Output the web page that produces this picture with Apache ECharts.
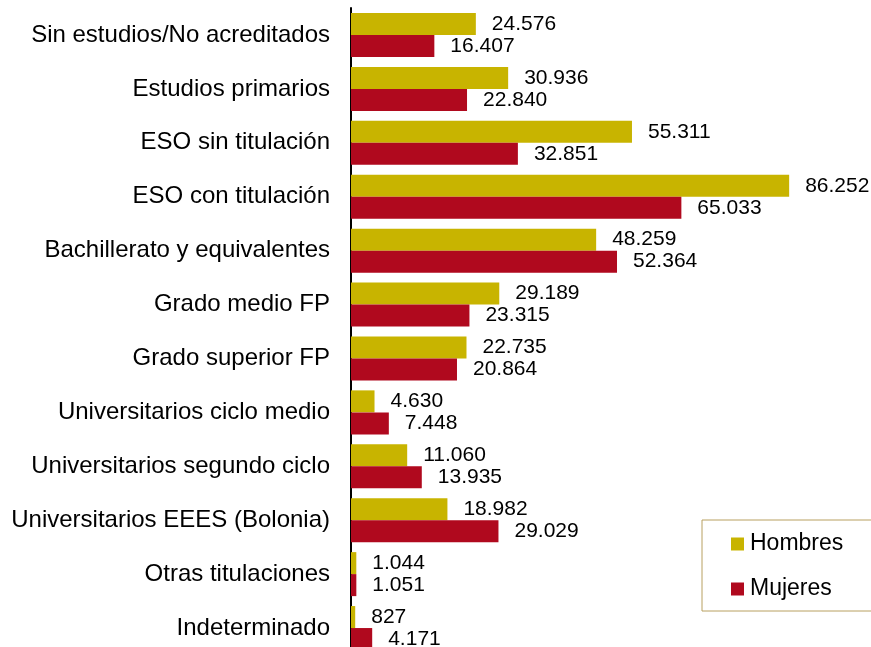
<!DOCTYPE html>
<html>
<head>
<meta charset="utf-8">
<script src="https://cdn.jsdelivr.net/npm/echarts@6/dist/echarts.min.js"></script>
<style>
  html, body { margin: 0; padding: 0; background: #fff; overflow: hidden; }
  /* chart is a bit taller than the window so the last bar is cut like the original */
  #chart { width: 871px; height: 655px; }
</style>
</head>
<body>
<div id="chart"></div>
<script>
const categories = [
  'Sin estudios/No acreditados',
  'Estudios primarios',
  'ESO sin titulación',
  'ESO con titulación',
  'Bachillerato y equivalentes',
  'Grado medio FP',
  'Grado superior FP',
  'Universitarios ciclo medio',
  'Universitarios segundo ciclo',
  'Universitarios EEES (Bolonia)',
  'Otras titulaciones',
  'Indeterminado'
]
const hombres = [24576, 30936, 55311, 86252, 48259, 29189, 22735, 4630, 11060, 18982, 1044, 827]
const mujeres = [16407, 22840, 32851, 65033, 52364, 23315, 20864, 7448, 13935, 29029, 1051, 4171]

const fontFamily = '"Liberation Sans", Arial, sans-serif'

// spanish style thousands: 24.576
function fmt(v) {
  return String(v).replace(/\B(?=(\d{3})+(?!\d))/g, '.')
}

const valueLabel = {
  show: true,
  position: 'right',
  distance: 16,
  fontSize: 21,
  fontFamily: fontFamily,
  color: '#000',
  formatter: p => fmt(p.value)
}

const chart = echarts.init(document.getElementById('chart'))
chart.setOption({
  animation: false,
  textStyle: { fontFamily: fontFamily },
  grid: { left: 351, top: 8, right: 12, bottom: 0 },
  legend: {
    orient: 'vertical',
    left: 702,
    top: 520,
    padding: [12, 40, 10, 29],
    itemGap: 21,
    itemWidth: 13,
    itemHeight: 13,
    icon: 'rect',
    borderColor: '#b8a060',
    borderWidth: 1,
    textStyle: { fontSize: 23, color: '#000', fontFamily: fontFamily, lineHeight: 24, padding: [0, 0, 0, 1] },
    data: ['Hombres', 'Mujeres']
  },
  xAxis: {
    type: 'value',
    min: 0,
    max: 100000,
    show: false
  },
  yAxis: {
    type: 'category',
    inverse: true,
    data: categories,
    axisLine: { show: true, lineStyle: { color: '#000', width: 2 } },
    axisTick: { show: false },
    axisLabel: { fontSize: 24, color: '#000', margin: 21, fontFamily: fontFamily }
  },
  series: [
    {
      name: 'Hombres',
      type: 'bar',
      data: hombres,
      barWidth: 22,
      barGap: '0%',
      itemStyle: { color: '#c8b400' },
      label: valueLabel
    },
    {
      name: 'Mujeres',
      type: 'bar',
      data: mujeres,
      barWidth: 22,
      itemStyle: { color: '#b0091e' },
      label: valueLabel
    }
  ]
})
</script>
</body>
</html>
